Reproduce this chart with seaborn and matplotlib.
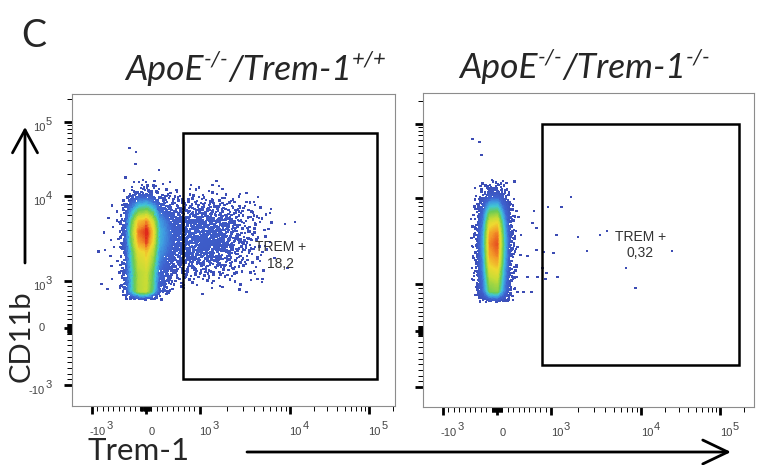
import numpy as np
import matplotlib
matplotlib.use("Agg")
import matplotlib.pyplot as plt
import seaborn as sns
import pandas as pd
from matplotlib.colors import LinearSegmentedColormap
from matplotlib.patches import Rectangle, FancyArrowPatch

# ------------------------------------------------------------------ data
# ApoE-/-/Trem-1+/+ : CD11b+ Trem-1- column (relative density along each axis)
wt_col_trem1 = [-1000, -500, -375, -250, -125, 0, 125, 250, 500]
wt_col_trem1_prof = [0, 0.01, 0.16, 0.6, 0.95, 1.0, 0.7, 0.22, 0.02]
wt_col_cd11b = [600, 800, 1000, 1300, 1700, 2200, 2900, 3800, 5000, 6500, 8500, 11000, 15000, 20000]
wt_col_cd11b_prof = [0, 7, 7, 7, 7.5, 8, 9.3, 9.8, 8.8, 6, 3, 0.8, 0.15, 0]
# ApoE-/-/Trem-1+/+ : Trem-1+ spread
wt_pos_trem1 = [0, 125, 250, 500, 750, 1000, 1400, 2000, 2800, 4000, 5600, 8000, 11000]
wt_pos_trem1_prof = [0.3, 0.8, 1.0, 1.0, 1.0, 0.95, 0.88, 0.7, 0.42, 0.18, 0.05, 0.01, 0]
wt_pos_cd11b = [800, 1000, 1300, 1700, 2200, 2900, 3800, 5000, 6500, 8500, 11000, 15000]
wt_pos_cd11b_prof = [0, 0.15, 0.35, 0.6, 0.85, 1.0, 1.0, 0.85, 0.6, 0.3, 0.1, 0]
wt_pos_level = 1.62
# isolated events
wt_sparse_trem1 = [-300, -175, -190, 250, 450, 1530, 1380, 840, 4430, 11700, 6040, 5000, 3300, 1070]
wt_sparse_cd11b = [44000, 39000, 27000, 22300, 15400, 15900, 14000, 14000, 9800, 5000, 6300, 1070, 780, 730]

# ApoE-/-/Trem-1-/- : CD11b+ Trem-1- column
ko_col_trem1 = [-750, -500, -375, -250, -125, 0, 125, 250, 375, 500]
ko_col_trem1_prof = [0, 0.0, 0.04, 0.35, 0.95, 1.0, 0.45, 0.06, 0.0, 0]
ko_col_cd11b = [600, 700, 850, 1000, 1300, 1700, 2200, 2900, 3800, 5000, 6500, 8500, 11000, 15000, 20000]
ko_col_cd11b_prof = [0, 2.5, 6, 6.5, 7.5, 8.5, 9.2, 9.6, 9.2, 8, 6, 3.5, 1.2, 0.3, 0]
# isolated events
ko_sparse_trem1 = [1660, 1310, 950, 690, 1150, 1990, 3500, 4200, 2500, 1070, 860, 6870,
                   24900, 8670, 1180, 917, 900, 840, 660, 730, 400, 450, 360, 565, 750,
                   380, 490, 640, 435, 565, 730, 380, 360, -450, -320, -285]
ko_sparse_cd11b = [10300, 7850, 7850, 7050, 3700, 3500, 3700, 4100, 2400, 2270, 2330, 1520,
                   2400, 900, 1190, 1330, 1130, 1520, 5100, 4460, 6000, 3700, 1190, 1190, 1190,
                   820, 820, 820, 2150, 2100, 2460, 2670, 1560, 62000, 56400, 37800]

# gates: Trem-1 low/high, CD11b low/high
wt_gate = [690, 127000, -890, 70000]
ko_gate = [830, 174000, -610, 99000]
gate_freq = [18.2, 0.32]
titles = [("ApoE", "-/-", "/Trem-1", "+/+"), ("ApoE", "-/-", "/Trem-1", "-/-")]

major_ticks = [-1000, 0, 1000, 10000, 100000]
major_labels = [("-10", "3"), ("0", ""), ("10", "3"), ("10", "4"), ("10", "5")]
minor_ticks = ([-v for v in range(100, 1000, 100)] + [-v for v in range(10, 100, 10)]
               + list(range(10, 100, 10)) + list(range(100, 1000, 100))
               + list(range(2000, 10000, 1000)) + list(range(20000, 100000, 10000)) + [200000])

# ------------------------------------------------------------------ scale
KNOTS = np.array([-1.0, 0.0, 1.0, 2.0, 3.0])


def decades(v):
    v = np.asarray(v, dtype=float)
    a = np.abs(v) / 1000.0
    return np.where(a <= 1, v / 1000.0, np.sign(v) * (1 + np.log10(np.maximum(a, 1.0))))


def undecades(u):
    u = np.asarray(u, dtype=float)
    a = np.minimum(np.abs(u), 12)
    return np.where(a <= 1, u * 1000.0, np.sign(u) * 1000.0 * 10 ** (np.maximum(a, 1.0) - 1))


def biexp_scale(anchors):
    anchors = np.asarray(anchors, dtype=float)
    lo = anchors[1] - anchors[0]
    hi = anchors[4] - anchors[3]

    def fwd(v):
        u = decades(v)
        t = np.interp(u, KNOTS, anchors)
        t = np.where(u < -1, anchors[0] + (u + 1) * lo, t)
        return np.where(u > 3, anchors[4] + (u - 3) * hi, t)

    def inv(t):
        t = np.asarray(t, dtype=float)
        u = np.interp(t, anchors, KNOTS)
        u = np.where(t < anchors[0], -1 + (t - anchors[0]) / lo, u)
        u = np.where(t > anchors[4], 3 + (t - anchors[4]) / hi, u)
        return undecades(u)

    return fwd, inv


x_fwd, x_inv = biexp_scale([0, 54, 108, 198, 277])
y_fwd, y_inv = biexp_scale([0, 56.5, 103.5, 189, 263.5])


def radical_inverse(n, base):
    n = n.copy()
    out = np.zeros(len(n))
    f = 1.0 / base
    while np.any(n > 0):
        out += f * (n % base)
        n //= base
        f /= base
    return out


def quasi_events(populations, rate):
    """Fill the density surface with a Halton (2, 3, 5) sequence."""
    xs = np.concatenate([x_fwd(p[0]) for p in populations])
    ys = np.concatenate([y_fwd(p[2]) for p in populations])
    x0, x1, y0, y1 = xs.min(), xs.max(), ys.min(), ys.max()
    n = int(rate * (x1 - x0) * (y1 - y0))
    k = np.arange(1, n + 1)
    tx = x0 + radical_inverse(k, 2) * (x1 - x0)
    ty = y0 + radical_inverse(k, 3) * (y1 - y0)
    q = radical_inverse(k, 5)
    dens = np.zeros(n)
    for px, pxv, py, pyv, lvl in populations:
        dens += lvl * np.interp(tx, x_fwd(px), pxv, left=0, right=0) * \
            np.interp(ty, y_fwd(py), pyv, left=0, right=0)
    keep = q < dens / 10.0
    return x_inv(tx[keep]), y_inv(ty[keep]), dens[keep]


wt_x, wt_y, wt_d = quasi_events([
    (wt_col_trem1, wt_col_trem1_prof, wt_col_cd11b, wt_col_cd11b_prof, 1.0),
    (wt_pos_trem1, wt_pos_trem1_prof, wt_pos_cd11b, wt_pos_cd11b_prof, wt_pos_level),
], rate=1.9)
ko_x, ko_y, ko_d = quasi_events([
    (ko_col_trem1, ko_col_trem1_prof, ko_col_cd11b, ko_col_cd11b_prof, 1.0),
], rate=3.8)


def events_frame(x, y, d, sx, sy):
    df = pd.DataFrame({
        "trem1": np.concatenate([x, sx]),
        "cd11b": np.concatenate([y, sy]),
        "level": np.concatenate([d, np.zeros(len(sx))]),
    })
    return df.sort_values("level", kind="stable").reset_index(drop=True)


wt_df = events_frame(wt_x, wt_y, wt_d, wt_sparse_trem1, wt_sparse_cd11b)
ko_df = events_frame(ko_x, ko_y, ko_d, ko_sparse_trem1, ko_sparse_cd11b)

# ------------------------------------------------------------------ style
sns.set_style("white")
plt.rcParams["font.family"] = ["Liberation Sans", "DejaVu Sans"]

pseudo = LinearSegmentedColormap.from_list("pseudocolor", [
    (0.00, "#3c4cb4"), (0.20, "#3e62d0"), (0.32, "#3f9be0"), (0.42, "#41c7d4"),
    (0.55, "#6acb55"), (0.70, "#c8dc35"), (0.80, "#eed930"), (0.90, "#f39a28"),
    (1.00, "#e0291b")])

fig = plt.figure(figsize=(7.59, 4.65), dpi=100)
ax_wt = fig.add_axes([72 / 759, 59 / 465, 323 / 759, 312 / 465])
ax_ko = fig.add_axes([423 / 759, 58 / 465, 331 / 759, 314 / 465])

panels = [
    (ax_wt, wt_df, wt_gate, (-2317, 2.15e5), (-2355, 2.34e5), True, (0.647, 0.483)),
    (ax_ko, ko_df, ko_gate, (-2345, 2.7e5), (-2260, 2.57e5), False, (0.656, 0.516)),
]

PX = 0.72  # points per pixel at 100 dpi
label_kw = dict(fontsize=8, color="#444444", family=["Liberation Sans", "DejaVu Sans"],
                annotation_clip=False)

for i, (ax, df, gate, xl, yl, ylab, txt_pos) in enumerate(panels):
    ax.set_xscale("function", functions=(x_fwd, x_inv))
    ax.set_yscale("function", functions=(y_fwd, y_inv))
    sns.scatterplot(data=df, x="trem1", y="cd11b", hue="level", palette=pseudo,
                    hue_norm=(0, 10), s=3.0, marker="s", linewidth=0, legend=False,
                    ax=ax)
    ax.set_xlim(*xl)
    ax.set_ylim(*yl)
    ax.set_xlabel("")
    ax.set_ylabel("")
    ax.set_xticks(major_ticks)
    ax.set_yticks(major_ticks)
    ax.set_xticks(minor_ticks, minor=True)
    ax.set_yticks(minor_ticks, minor=True)
    ax.tick_params(which="both", bottom=True, left=True, top=False, right=False,
                   direction="out", color="black", labelbottom=False, labelleft=False)
    ax.tick_params(which="major", length=5.8, width=2.0)
    ax.tick_params(which="minor", length=3.4, width=0.7)
    for sp in ax.spines.values():
        sp.set_color("#8c8c8c")
        sp.set_linewidth(0.8)

    gx0, gx1, gy0, gy1 = gate
    ax.add_patch(Rectangle((gx0, gy0), gx1 - gx0, gy1 - gy0, fill=False,
                           edgecolor="black", linewidth=1.8, joinstyle="miter", zorder=5))
    freq = f"{gate_freq[i]:g}".replace(".", ",")
    ax.text(txt_pos[0], txt_pos[1], "TREM +\n" + freq, transform=ax.transAxes,
            ha="center", va="center", fontsize=10, color="#333333", linespacing=1.25,
            zorder=6)

    # tick labels: base with a full-size exponent
    for v, (base, ex) in zip(major_ticks, major_labels):
        b = ax.annotate(base, xy=(v, 0), xycoords=ax.get_xaxis_transform(),
                        xytext=(6 * PX, -26 * PX), textcoords="offset points",
                        ha="center", va="center", **label_kw)
        if ex:
            ax.annotate(ex, xy=(1, 0.5), xycoords=b, xytext=(0.4, 6 * PX),
                        textcoords="offset points", ha="left", va="center", **label_kw)
        if ylab:
            dy = 0 if not ex else -6 * PX
            yb = ax.annotate(base, xy=(0, v), xycoords=ax.get_yaxis_transform(),
                             xytext=(-27 * PX, dy), textcoords="offset points",
                             ha="right", va="center", **label_kw)
            if ex:
                ax.annotate(ex, xy=(1, 0.5), xycoords=yb, xytext=(0.4, 6 * PX),
                            textcoords="offset points", ha="left", va="center", **label_kw)

# ------------------------------------------------------------------ titles and labels
renderer = fig.canvas.get_renderer()
title_font = ["Lato", "DejaVu Sans"]


def rich_title(parts, cx, base_y, size):
    arts = []
    for j, p in enumerate(parts):
        sup = j % 2 == 1
        t = fig.text(0, 0, p, fontsize=size * (0.62 if sup else 1.0), style="italic",
                     family=title_font, ha="left", va="baseline", transform=None)
        arts.append((t, sup))
    widths = [t.get_window_extent(renderer).width for t, _ in arts]
    x = cx - sum(widths) / 2
    for (t, sup), w in zip(arts, widths):
        t.set_position((x, base_y + (15 if sup else 0)))
        x += w


H = 465
rich_title(titles[0], 256, H - 80, 25.5)
rich_title(titles[1], 585, H - 78, 25.5)

fig.text(21 / 759, 1 - 47 / H, "C", fontsize=27, family=title_font, ha="left",
         va="baseline")
fig.text(22 / 759, 1 - 336 / H, "CD11b", fontsize=21, family=title_font, rotation=90,
         ha="center", va="center")
fig.text(87 / 759, 1 - 460 / H, "Trem-1", fontsize=22.5, family=title_font, ha="left",
         va="baseline")

fig.add_artist(FancyArrowPatch((25 / 759, 1 - 263 / H), (25 / 759, 1 - 127 / H),
                               transform=fig.transFigure, color="black", lw=2.0,
                               arrowstyle="->,head_length=16.5,head_width=9",
                               mutation_scale=1, shrinkA=0, shrinkB=0))
fig.add_artist(FancyArrowPatch((247 / 759, 1 - 452 / H), (731 / 759, 1 - 452 / H),
                               transform=fig.transFigure, color="black", lw=2.0,
                               arrowstyle="->,head_length=18,head_width=8.6",
                               mutation_scale=1, shrinkA=0, shrinkB=0))

fig.savefig("out.png", dpi=100)
